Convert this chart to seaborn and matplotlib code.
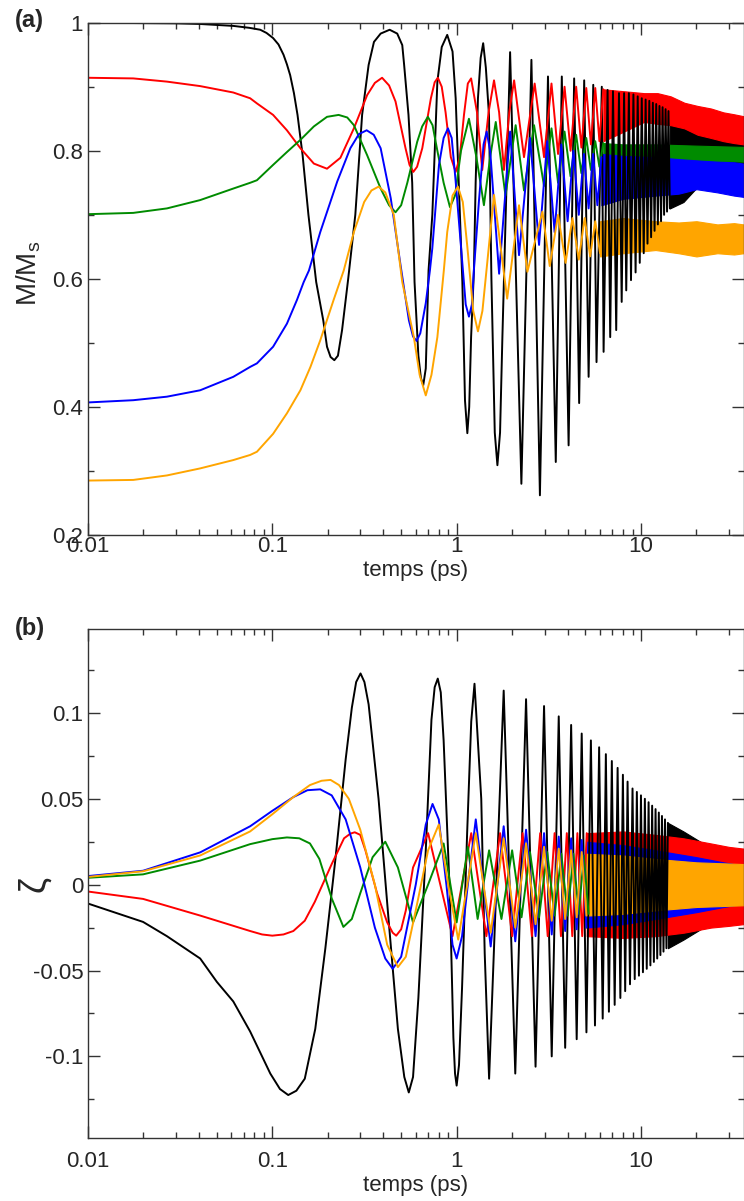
import matplotlib
matplotlib.use('Agg')
import matplotlib.pyplot as plt
import seaborn as sns
from matplotlib.ticker import FixedLocator, NullFormatter, LogLocator

# ---------------- panel (a) : M/Ms ----------------
a_black_t = [0.01, 0.03, 0.0406, 0.0614, 0.075, 0.086, 0.093, 0.101, 0.108, 0.115, 0.12, 0.125, 0.131,
             0.137, 0.146, 0.157, 0.173, 0.189, 0.198, 0.207, 0.217, 0.227, 0.239, 0.258, 0.282,
             0.307, 0.333, 0.356, 0.387, 0.433, 0.476, 0.507, 0.519, 0.548, 0.574, 0.591, 0.62,
             0.64, 0.659, 0.68, 0.704, 0.738, 0.786, 0.83, 0.889, 0.95, 0.988, 1.074, 1.11, 1.143,
             1.17, 1.198, 1.241, 1.268, 1.305, 1.35, 1.393, 1.44, 1.498, 1.544, 1.61, 1.664, 1.72,
             1.771, 1.95, 2.245, 2.545, 2.83, 3.13, 3.45, 3.72, 4.05, 4.34, 4.62, 4.92, 5.20, 5.51,
             5.74, 6.13, 6.27, 6.59, 6.81, 7.05, 7.34, 7.6, 7.86, 8.1, 8.32, 8.6, 8.83, 9.1, 9.35,
             9.6, 9.85, 10.1, 10.35, 10.6, 10.85, 11.1, 11.35, 11.6, 11.85, 12.1, 12.35, 12.6, 12.85,
             13.1, 13.35, 13.6, 13.85, 14.1, 14.35]
a_black_m = [1.0, 0.999, 0.998, 0.995, 0.992, 0.989, 0.984, 0.976, 0.966, 0.95, 0.935, 0.918, 0.89,
             0.856, 0.793, 0.70, 0.595, 0.535, 0.494, 0.478, 0.473, 0.48, 0.52, 0.60, 0.70,
             0.856, 0.934, 0.97, 0.983, 0.989, 0.983, 0.965, 0.934, 0.856, 0.75, 0.595, 0.48,
             0.445, 0.434, 0.46, 0.613, 0.70, 0.908, 0.962, 0.981, 0.955, 0.882, 0.595, 0.41, 0.359,
             0.40, 0.509, 0.613, 0.75, 0.882, 0.945, 0.968, 0.93, 0.856, 0.60, 0.36, 0.309, 0.36,
             0.509, 0.954, 0.28, 0.942, 0.262, 0.916, 0.314, 0.916, 0.34, 0.913, 0.406, 0.91, 0.447,
             0.903, 0.47, 0.90, 0.486, 0.895, 0.509, 0.893, 0.52, 0.89, 0.564, 0.89, 0.582, 0.89,
             0.598, 0.888, 0.61, 0.885, 0.625, 0.882, 0.64, 0.88, 0.655, 0.878, 0.665, 0.875, 0.675,
             0.873, 0.685, 0.87, 0.69, 0.868, 0.70, 0.865, 0.705, 0.862, 0.71]
a_black_band_t = [14.35, 17, 20, 24, 28, 32, 36]
a_black_band_lo = [0.71, 0.72, 0.742, 0.755, 0.76, 0.762, 0.765]
a_black_band_hi = [0.862, 0.855, 0.85, 0.84, 0.83, 0.82, 0.815]

a_red_t = [0.01, 0.0176, 0.0268, 0.0406, 0.0614, 0.0758, 0.0825, 0.101, 0.12, 0.142, 0.168, 0.198,
           0.234, 0.277, 0.327, 0.36, 0.394, 0.43, 0.466, 0.528, 0.555, 0.582, 0.61, 0.651, 0.725,
           0.76, 0.791, 0.83, 0.871, 0.93, 0.988, 1.04, 1.096, 1.15, 1.198, 1.29, 1.377, 1.49,
           1.595, 1.70, 1.807, 1.93, 2.05, 2.32, 2.65, 2.98, 3.27, 3.55, 3.85, 4.15, 4.45, 4.75,
           5.05, 5.35, 5.65, 5.95, 6.25]
a_red_m = [0.914, 0.913, 0.908, 0.901, 0.891, 0.882, 0.874, 0.856, 0.832, 0.804, 0.78, 0.772,
           0.789, 0.835, 0.887, 0.906, 0.914, 0.902, 0.877, 0.804, 0.778, 0.767, 0.775, 0.804, 0.882,
           0.907, 0.914, 0.90, 0.86, 0.79, 0.767, 0.79, 0.856, 0.905, 0.913, 0.86, 0.77, 0.86,
           0.91, 0.86, 0.77, 0.86, 0.91, 0.79, 0.905, 0.79, 0.905, 0.795, 0.90, 0.80, 0.90, 0.805,
           0.898, 0.81, 0.898, 0.815, 0.896]
a_red_band_t = [6.25, 8.8, 10.4, 12.3, 14.5, 17.2, 20.3, 24, 28, 32, 36]
a_red_band_lo = [0.815, 0.835, 0.845, 0.842, 0.84, 0.835, 0.825, 0.82, 0.815, 0.812, 0.81]
a_red_band_hi = [0.896, 0.892, 0.89, 0.89, 0.885, 0.875, 0.87, 0.866, 0.86, 0.857, 0.854]

a_green_t = [0.01, 0.0176, 0.0268, 0.0406, 0.0614, 0.0758, 0.0825, 0.101, 0.12, 0.142, 0.168,
             0.198, 0.229, 0.255, 0.277, 0.327, 0.387, 0.43, 0.466, 0.50, 0.54, 0.611, 0.65, 0.698,
             0.74, 0.786, 0.85, 0.92, 0.98, 1.056, 1.166, 1.28, 1.406, 1.52, 1.63, 1.73, 1.84, 2.09,
             2.32, 2.63, 2.98, 3.27, 3.55, 3.85, 4.15, 4.45, 4.75, 5.05, 5.35, 5.65, 5.95, 6.25]
a_green_m = [0.701, 0.703, 0.71, 0.723, 0.741, 0.75, 0.754, 0.778, 0.798, 0.817, 0.838, 0.853,
             0.856, 0.852, 0.84, 0.793, 0.741, 0.715, 0.704, 0.715, 0.75, 0.814, 0.838, 0.853,
             0.84, 0.80, 0.75, 0.712, 0.73, 0.80, 0.85, 0.79, 0.715, 0.79, 0.845, 0.79, 0.73, 0.84,
             0.738, 0.84, 0.745, 0.835, 0.75, 0.83, 0.76, 0.825, 0.765, 0.82, 0.77, 0.815, 0.775, 0.812]
a_green_band_t = [6.25, 8, 12, 20, 36]
a_green_band_lo = [0.775, 0.782, 0.783, 0.785, 0.783]
a_green_band_hi = [0.812, 0.81, 0.81, 0.808, 0.806]

a_blue_t = [0.01, 0.0176, 0.0268, 0.0406, 0.0614, 0.0758, 0.0825, 0.101, 0.12, 0.136, 0.148, 0.158,
            0.182, 0.225, 0.265, 0.295, 0.325, 0.355, 0.387, 0.439, 0.497, 0.551, 0.58, 0.606, 0.635,
            0.68, 0.716, 0.738, 0.802, 0.85, 0.897, 0.94, 0.988, 1.056, 1.12, 1.166, 1.21, 1.24,
            1.32, 1.40, 1.455, 1.52, 1.70, 1.95, 2.18, 2.50, 2.80, 3.1, 3.4, 3.7, 4.0, 4.3, 4.6,
            4.9, 5.2, 5.5, 5.8, 6.1]
a_blue_m = [0.407, 0.4105, 0.416, 0.426, 0.447, 0.4625, 0.468, 0.494, 0.53, 0.567, 0.595, 0.613,
            0.673, 0.752, 0.804, 0.826, 0.832, 0.825, 0.804, 0.726, 0.62, 0.535, 0.51, 0.503, 0.515,
            0.562, 0.613, 0.648, 0.778, 0.82, 0.835, 0.82, 0.752, 0.65, 0.56, 0.541, 0.56, 0.613,
            0.72, 0.81, 0.83, 0.80, 0.608, 0.83, 0.637, 0.82, 0.653, 0.815, 0.673, 0.81, 0.69, 0.80,
            0.70, 0.795, 0.71, 0.795, 0.715, 0.79]
a_blue_band_t = [6.1, 8, 12, 16, 20, 26, 32, 36]
a_blue_band_lo = [0.715, 0.725, 0.73, 0.733, 0.74, 0.735, 0.73, 0.728]
a_blue_band_hi = [0.795, 0.792, 0.79, 0.787, 0.785, 0.783, 0.782, 0.78]

a_orange_t = [0.01, 0.0176, 0.0268, 0.0406, 0.0614, 0.0758, 0.0825, 0.101, 0.12, 0.142, 0.161,
              0.182, 0.215, 0.244, 0.277, 0.315, 0.345, 0.377, 0.41, 0.456, 0.507, 0.586, 0.63,
              0.68, 0.73, 0.786, 0.852, 0.889, 0.95, 1.016, 1.08, 1.143, 1.23, 1.305, 1.38, 1.595,
              1.88, 2.18, 2.42, 2.92, 3.2, 3.55, 3.9, 4.25, 4.6, 4.95, 5.3, 5.65, 6.0]
a_orange_m = [0.285, 0.286, 0.293, 0.304, 0.317, 0.325, 0.33, 0.358, 0.39, 0.426, 0.4625,
              0.504, 0.567, 0.613, 0.673, 0.72, 0.738, 0.744, 0.735, 0.70, 0.595, 0.509, 0.45,
              0.418, 0.45, 0.509, 0.613, 0.673, 0.73, 0.744, 0.72, 0.65, 0.55, 0.518, 0.55, 0.731,
              0.569, 0.715, 0.611, 0.705, 0.62, 0.70, 0.625, 0.695, 0.63, 0.695, 0.635, 0.69, 0.64]
a_orange_band_t = [6.0, 8, 12, 16, 20, 26, 32, 36]
a_orange_band_lo = [0.635, 0.64, 0.645, 0.64, 0.635, 0.64, 0.638, 0.64]
a_orange_band_hi = [0.69, 0.695, 0.69, 0.688, 0.69, 0.685, 0.687, 0.685]

# ---------------- panel (b) : zeta ----------------
b_black_t = [0.01, 0.0199, 0.0268, 0.0406, 0.05, 0.0614, 0.0758, 0.0975, 0.11, 0.122, 0.135, 0.15,
             0.171, 0.194, 0.22, 0.25, 0.27, 0.285, 0.301, 0.316, 0.333, 0.377, 0.427, 0.48, 0.52,
             0.55, 0.58, 0.62, 0.68, 0.73, 0.76, 0.79, 0.82, 0.85, 0.92, 0.96, 0.98, 1.0, 1.03, 1.07,
             1.14, 1.2, 1.25, 1.36, 1.42, 1.5, 1.8, 2.08, 2.38, 2.68, 2.98, 3.28, 3.58, 3.88, 4.18,
             4.48, 4.77, 5.06, 5.35, 5.63, 5.93, 6.2, 6.45, 6.7, 6.95, 7.2, 7.47, 7.73, 7.98, 8.21,
             8.46, 8.72, 9.0, 9.25, 9.5, 9.75, 10.0, 10.25, 10.5, 10.75, 11.0, 11.25, 11.5, 11.75,
             12.0, 12.25, 12.5, 12.75, 13.0, 13.25, 13.5, 13.75, 14.0]
b_black_z = [-0.011, -0.0217, -0.030, -0.043, -0.0566, -0.068, -0.0855, -0.11, -0.119, -0.1225,
             -0.12, -0.113, -0.084, -0.037, 0.015, 0.073, 0.103, 0.118, 0.123, 0.118, 0.105, 0.05,
             -0.02, -0.084, -0.112, -0.121, -0.112, -0.066, 0.02, 0.096, 0.115, 0.12, 0.112, 0.084,
             -0.008, -0.089, -0.11, -0.117, -0.105, -0.06, 0.03, 0.095, 0.117, 0.05, -0.04, -0.113,
             0.113, -0.11, 0.108, -0.106, 0.104, -0.10, 0.098, -0.095, 0.093, -0.09, 0.088, -0.086,
             0.084, -0.082, 0.08, -0.078, 0.076, -0.074, 0.072, -0.07, 0.068, -0.066, 0.064, -0.062,
             0.06, -0.058, 0.056, -0.055, 0.054, -0.053, 0.052, -0.051, 0.05, -0.049, 0.048, -0.047,
             0.046, -0.045, 0.044, -0.043, 0.042, -0.041, 0.04, -0.039, 0.038, -0.037, 0.036]
b_black_band_t = [14.0, 17, 21, 25, 30, 36]
b_black_band_lo = [-0.037, -0.032, -0.026, -0.02, -0.014, -0.01]
b_black_band_hi = [0.036, 0.031, 0.025, 0.019, 0.013, 0.009]

b_red_t = [0.01, 0.0199, 0.0406, 0.0758, 0.088, 0.10, 0.115, 0.13, 0.15, 0.17, 0.21, 0.245, 0.265,
           0.28, 0.30, 0.32, 0.37, 0.42, 0.45, 0.47, 0.5, 0.53, 0.58, 0.7, 0.95, 1.2, 1.45, 1.72,
           2.0, 2.28, 2.56, 2.84, 3.12, 3.4, 3.68, 3.96, 4.24, 4.52, 4.8, 5.08]
b_red_z = [-0.004, -0.0083, -0.018, -0.027, -0.029, -0.0297, -0.029, -0.027, -0.021, -0.01, 0.012,
           0.027, 0.0297, 0.0305, 0.029, 0.02, -0.005, -0.022, -0.028, -0.0297, -0.026, -0.015,
           0.01, 0.03, -0.03, 0.03, -0.03, 0.03, -0.03, 0.03, -0.03, 0.03, -0.03, 0.03, -0.03,
           0.03, -0.03, 0.03, -0.03, 0.03]
b_red_band_t = [5.08, 8, 12, 17, 24, 30, 36]
b_red_band_lo = [-0.03, -0.031, -0.03, -0.028, -0.025, -0.024, -0.023]
b_red_band_hi = [0.03, 0.031, 0.029, 0.027, 0.024, 0.022, 0.021]

b_green_t = [0.01, 0.0199, 0.0406, 0.0758, 0.1, 0.12, 0.14, 0.16, 0.18, 0.21, 0.243, 0.27, 0.3,
             0.35, 0.41, 0.48, 0.58, 0.7, 0.85, 1.0, 1.15, 1.3, 1.5, 1.75, 2.0, 2.25, 2.5, 2.8, 3.1,
             3.4, 3.7, 4.0, 4.3, 4.6, 4.9, 5.2]
b_green_z = [0.004, 0.006, 0.014, 0.0236, 0.0265, 0.0275, 0.027, 0.024, 0.015, -0.008, -0.0246,
             -0.02, -0.005, 0.016, 0.025, 0.01, -0.022, 0.0, 0.024, -0.022, 0.022, -0.02, 0.02,
             -0.02, 0.02, -0.019, 0.019, -0.019, 0.019, -0.018, 0.018, -0.018, 0.018, -0.017, 0.017,
             -0.017]
b_green_band_t = [5.2, 8, 12, 20, 36]
b_green_band_lo = [-0.017, -0.016, -0.014, -0.012, -0.01]
b_green_band_hi = [0.017, 0.016, 0.014, 0.012, 0.01]

b_blue_t = [0.01, 0.0199, 0.0406, 0.0758, 0.1, 0.13, 0.155, 0.182, 0.21, 0.25, 0.3, 0.36, 0.41,
            0.45, 0.5, 0.6, 0.68, 0.74, 0.8, 0.88, 0.95, 1.0, 1.07, 1.15, 1.27, 1.53, 1.8, 2.08,
            2.38, 2.68, 2.98, 3.28, 3.58, 3.88, 4.18, 4.48, 4.77, 5.06]
b_blue_z = [0.005, 0.0081, 0.0188, 0.034, 0.043, 0.051, 0.055, 0.0555, 0.052, 0.038, 0.01, -0.025,
            -0.043, -0.049, -0.042, 0.0, 0.035, 0.047, 0.038, 0.0, -0.035, -0.043, -0.03, 0.0, 0.038,
            -0.036, 0.034, -0.033, 0.032, -0.03, 0.03, -0.029, 0.028, -0.027, 0.027, -0.026, 0.026,
            -0.025]
b_blue_band_t = [5.06, 8, 12, 20, 28, 36]
b_blue_band_lo = [-0.025, -0.023, -0.02, -0.016, -0.013, -0.011]
b_blue_band_hi = [0.025, 0.023, 0.02, 0.016, 0.013, 0.011]

b_orange_t = [0.01, 0.0199, 0.0406, 0.0758, 0.1, 0.13, 0.16, 0.185, 0.207, 0.23, 0.26, 0.3, 0.36,
              0.42, 0.48, 0.53, 0.6, 0.7, 0.8, 0.9, 1.02, 1.27, 1.53, 1.8, 2.08, 2.38, 2.68, 2.98,
              3.28, 3.58, 3.88, 4.18, 4.48, 4.77, 5.06]
b_orange_z = [0.0045, 0.0078, 0.017, 0.031, 0.041, 0.051, 0.058, 0.0605, 0.061, 0.058, 0.05, 0.032,
              0.0, -0.035, -0.048, -0.042, -0.015, 0.02, 0.035, 0.0, -0.032, 0.03, -0.028, 0.027,
              -0.025, 0.024, -0.023, 0.022, -0.021, 0.021, -0.02, 0.02, -0.019, 0.019, -0.018]
b_orange_band_t = [5.06, 8, 12, 20, 36]
b_orange_band_lo = [-0.018, -0.017, -0.015, -0.013, -0.012]
b_orange_band_hi = [0.018, 0.017, 0.015, 0.013, 0.012]

BLACK, RED, GREEN, BLUE, ORANGE = '#000000', '#ff0000', '#008b00', '#0000ff', '#ffa500'

sns.set_style('ticks')
plt.rcParams['font.family'] = ['Liberation Sans', 'DejaVu Sans']
plt.rcParams['mathtext.default'] = 'regular'

fig = plt.figure(figsize=(7.44, 12.01), dpi=100)
ax_a = fig.add_axes([88 / 744, 1 - 535 / 1201, 655.5 / 744, 512.3 / 1201])
ax_b = fig.add_axes([88 / 744, 1 - 1138.3 / 1201, 655.5 / 744, 509 / 1201])


def curve(ax, t, v, color):
    sns.lineplot(x=t, y=v, color=color, lw=1.4, estimator=None, sort=False, ax=ax)


def band(ax, t, lo, hi, color):
    ax.fill_between(t, lo, hi, color=color, lw=0.8, edgecolor=color)


panel_a = [(a_black_t, a_black_m, a_black_band_t, a_black_band_lo, a_black_band_hi, BLACK),
           (a_red_t, a_red_m, a_red_band_t, a_red_band_lo, a_red_band_hi, RED),
           (a_green_t, a_green_m, a_green_band_t, a_green_band_lo, a_green_band_hi, GREEN),
           (a_blue_t, a_blue_m, a_blue_band_t, a_blue_band_lo, a_blue_band_hi, BLUE),
           (a_orange_t, a_orange_m, a_orange_band_t, a_orange_band_lo, a_orange_band_hi, ORANGE)]
panel_b = [(b_black_t, b_black_z, b_black_band_t, b_black_band_lo, b_black_band_hi, BLACK),
           (b_red_t, b_red_z, b_red_band_t, b_red_band_lo, b_red_band_hi, RED),
           (b_green_t, b_green_z, b_green_band_t, b_green_band_lo, b_green_band_hi, GREEN),
           (b_blue_t, b_blue_z, b_blue_band_t, b_blue_band_lo, b_blue_band_hi, BLUE),
           (b_orange_t, b_orange_z, b_orange_band_t, b_orange_band_lo, b_orange_band_hi, ORANGE)]

for ax, series in [(ax_a, panel_a), (ax_b, panel_b)]:
    for t, v, bt, blo, bhi, col in series:
        curve(ax, t, v, col)
        band(ax, bt, blo, bhi, col)

for ax in (ax_a, ax_b):
    ax.set_xscale('log')
    ax.set_xlim(0.01, 36)
    ax.xaxis.set_major_locator(FixedLocator([0.01, 0.1, 1, 10]))
    ax.set_xticklabels(['0.01', '0.1', '1', '10'])
    ax.xaxis.set_minor_locator(LogLocator(base=10, subs=range(2, 10)))
    ax.xaxis.set_minor_formatter(NullFormatter())
    ax.tick_params(which='both', direction='in', top=True, right=True, labelsize=16,
                   width=1.0, color='#333333')
    ax.tick_params(which='major', length=8.5)
    ax.tick_params(which='minor', length=4.5)
    for s in ax.spines.values():
        s.set_linewidth(1.0)
        s.set_color('#333333')
    ax.set_xlabel('temps (ps)', fontsize=16, labelpad=2)

ax_a.set_ylim(0.2, 1.0)
ax_a.set_yticks([0.2, 0.4, 0.6, 0.8, 1.0])
ax_a.set_yticklabels(['0.2', '0.4', '0.6', '0.8', '1'])
ax_a.yaxis.set_minor_locator(FixedLocator([0.3, 0.5, 0.7, 0.9]))
ax_a.tick_params(axis='x', which='major', pad=1)
ax_a.set_ylabel('M/M$_s$', fontsize=20)
ax_a.yaxis.set_label_coords(-0.069, 0.51)

ax_b.set_ylim(-0.1477, 0.1487)
ax_b.set_yticks([-0.1, -0.05, 0, 0.05, 0.1])
ax_b.set_yticklabels(['-0.1', '-0.05', '0', '0.05', '0.1'])
ax_b.yaxis.set_minor_locator(FixedLocator([-0.125, -0.075, -0.025, 0.025, 0.075, 0.125]))
ax_b.tick_params(axis='x', which='major', pad=9)
ax_b.set_ylabel('ζ', fontsize=26)
ax_b.yaxis.set_label_coords(-0.055, 0.5)

fig.text(15 / 744, 1 - 21 / 1201, '(a)', fontsize=17, fontweight='bold', va='center')
fig.text(15 / 744, 1 - 628 / 1201, '(b)', fontsize=17, fontweight='bold', va='center')

fig.savefig('out.png', dpi=100)
